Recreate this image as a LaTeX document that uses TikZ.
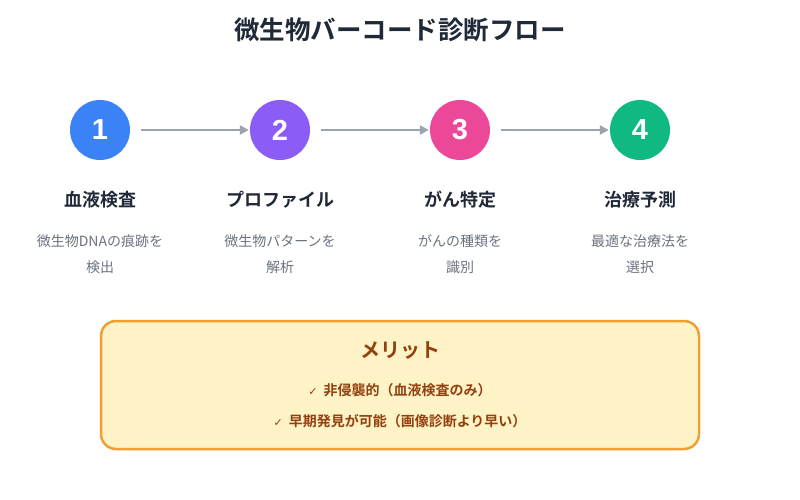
\documentclass[tikz,border=0pt]{standalone}
\usepackage{fontspec}
\setmainfont{Noto Sans CJK JP}[BoldFont={Noto Sans CJK JP Bold}]
\newfontfamily\numfont{Liberation Sans}
\newfontfamily\chkfont{DejaVu Sans}
\definecolor{tdark}{HTML}{1F2937}
\definecolor{tgray}{HTML}{6B7280}
\definecolor{agray}{HTML}{9CA3AF}
\definecolor{c1}{HTML}{3B82F6}
\definecolor{c2}{HTML}{8B5CF6}
\definecolor{c3}{HTML}{EC4899}
\definecolor{c4}{HTML}{10B981}
\definecolor{boxfill}{HTML}{FEF3C7}
\definecolor{boxline}{HTML}{F0A030}
\definecolor{brown}{HTML}{92400E}
\usetikzlibrary{arrows.meta}
\tikzset{
  stepcircle/.style={circle, minimum size=60pt, inner sep=0pt, text=white, font=\numfont\bfseries\fontsize{29}{29}\selectfont},
  steptitle/.style={text=tdark, font=\bfseries\fontsize{18}{20}\selectfont},
  stepdesc/.style={text=tgray, font=\fontsize{14}{26}\selectfont, align=center},
  flowarrow/.style={draw=agray, line width=2.5pt, -{Triangle[length=9pt,width=9pt]}},
  meritline/.style={text=brown, font=\bfseries\fontsize{14}{16}\selectfont},
}
\begin{document}
\begin{tikzpicture}[x=1pt,y=-1pt]
\useasboundingbox (0,0) rectangle (800,500);
\fill[white] (0,0) rectangle (800,500);
\node[text=tdark, font=\bfseries\fontsize{25.5}{28}\selectfont] (title) at (400,30) {微生物バーコード診断フロー};

\node[stepcircle, fill=c1] (s1) at (100,130) {1};
\node[stepcircle, fill=c2] (s2) at (280,130) {2};
\node[stepcircle, fill=c3] (s3) at (460,130) {3};
\node[stepcircle, fill=c4] (s4) at (640,130) {4};

\draw[flowarrow] ([xshift=11pt]s1.east) -- ([xshift=-1pt]s2.west);
\draw[flowarrow] ([xshift=11pt]s2.east) -- ([xshift=-1pt]s3.west);
\draw[flowarrow] ([xshift=11pt]s3.east) -- ([xshift=-1pt]s4.west);

\node[steptitle] (t1) at (100,200) {血液検査};
\node[steptitle] (t2) at (280,200) {プロファイル};
\node[steptitle] (t3) at (460,200) {がん特定};
\node[steptitle] (t4) at (640,200) {治療予測};

\node[stepdesc] (d1) at (100,254) {微生物DNAの痕跡を\\検出};
\node[stepdesc] (d2) at (280,254) {微生物パターンを\\解析};
\node[stepdesc] (d3) at (460,254) {がんの種類を\\識別};
\node[stepdesc] (d4) at (640,254) {最適な治療法を\\選択};

\draw[fill=boxfill, draw=boxline, line width=2.5pt, rounded corners=15pt] (101,321) rectangle (699,449);
\node[text=brown, font=\bfseries\fontsize{20}{22}\selectfont] (mtitle) at (400,351) {メリット};
\node[meritline] (m1) at (400,390) {{\chkfont\mdseries\fontsize{11}{12}\selectfont ✓}\hspace{6pt}非侵襲的（血液検査のみ）};
\node[meritline] (m2) at (400,421) {{\chkfont\mdseries\fontsize{11}{12}\selectfont ✓}\hspace{6pt}早期発見が可能（画像診断より早い）};
\end{tikzpicture}
\end{document}
